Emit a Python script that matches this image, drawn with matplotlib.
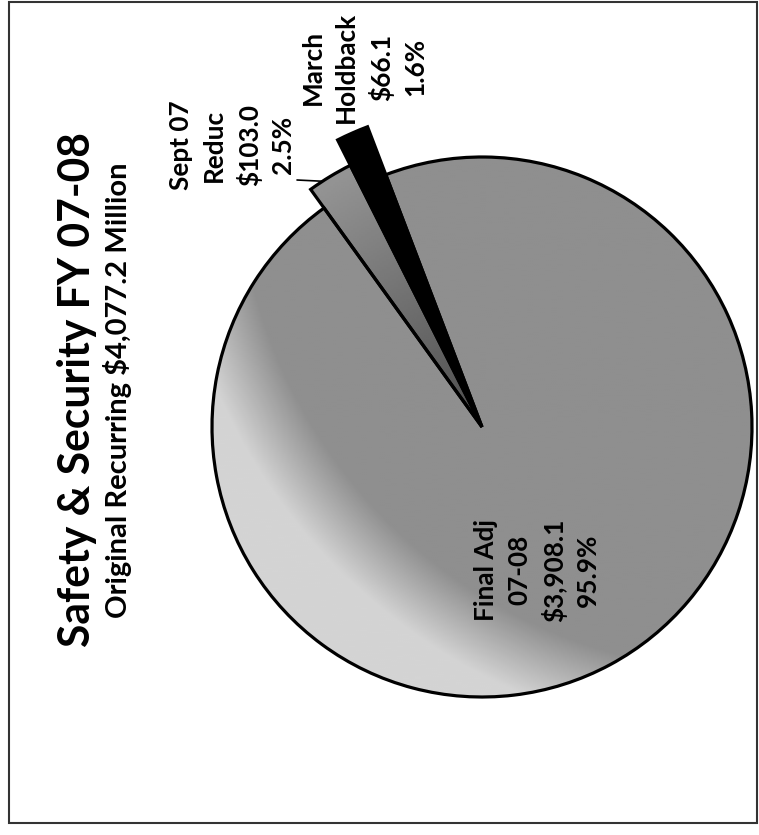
import matplotlib
matplotlib.use('Agg')
import matplotlib.pyplot as plt
import numpy as np
from matplotlib.patches import Rectangle

W, H = 759, 835
FONT = ['Lato', 'DejaVu Sans']

# chart data
names = ['Final Adj\n07-08', 'March\nHoldback', 'Sept 07\nReduc']
values = [3908.1, 66.1, 103.0]
title = 'Safety & Security FY 07-08'
subtitle_fmt = 'Original Recurring \\${:,.1f} Million'

total = sum(values)
labels = ['{}\n\\${:,.1f}\n{:.1f}%'.format(n, v, 100 * v / total)
          for n, v in zip(names, values)]

fig = plt.figure(figsize=(W / 100, H / 100), dpi=100)
ax = fig.add_axes([0, 0, 1, 1])
renderer = fig.canvas.get_renderer()


def fit_size(text, target):
    # font size that makes one line of bold text `target` px long
    t = fig.text(0, 0, text, fontsize=20, fontweight='bold', family=FONT)
    w = t.get_window_extent(renderer).width
    t.remove()
    return 20 * target / w


# pie, rotated like the scanned page
cx, cy, R = 482, 408, 270
wedges, _ = ax.pie(values, center=(cx, cy), radius=R, startangle=125.8,
                   counterclock=True, colors=['none', 'black', 'none'],
                   wedgeprops=dict(edgecolor='black', linewidth=2.3, zorder=2))
wedges[1].set_radius(R * 1.19)
wedges[2].set_radius(R * 1.085)

# shading of the big slice and the Sept wedge
xs = np.linspace(0, W, 380)
ys = np.linspace(0, H, 420)
X, Y = np.meshgrid(xs, ys)
rr = np.hypot(X - 752, Y - 678)
big_shade = 0.56 + 0.27 * np.clip((rr - 515) / 70, 0, 1)
im = ax.imshow(big_shade, cmap='gray', vmin=0, vmax=1, extent=(0, W, 0, H),
               origin='lower', zorder=1, interpolation='bilinear')
im.set_clip_path(wedges[0])

rc = np.hypot(X - cx, Y - cy)
sept_shade = 0.3 + 0.28 * np.clip(rc / 290, 0, 1)
im2 = ax.imshow(sept_shade, cmap='gray', vmin=0, vmax=1, extent=(0, W, 0, H),
                origin='lower', zorder=1, interpolation='bilinear')
im2.set_clip_path(wedges[2])

# leader line for the Sept label
sw = wedges[2]
th = np.radians(sw.theta1 + 0.69 * (sw.theta2 - sw.theta1))
pt = (cx + sw.r * np.cos(th), cy + sw.r * np.sin(th))
ax.annotate('', xy=pt, xytext=(297, 655),
            arrowprops=dict(arrowstyle='-', color='black', lw=1.2,
                            shrinkA=0, shrinkB=0))

# titles
ax.text(90, 445, title, rotation=90, rotation_mode='anchor', ha='center',
        va='baseline', fontsize=fit_size(title, 516), fontweight='bold',
        family=FONT, color='black')
sub = subtitle_fmt.format(total)
ax.text(127, 445, sub, rotation=90, rotation_mode='anchor', ha='center',
        va='baseline', fontsize=fit_size(sub.replace('\\', ''), 456),
        fontweight='bold', family=FONT, color='black')

# slice labels
lab_size = fit_size('Holdback', 111)
label_pos = [(537, 265), (364, 768), (232, 690)]
for (x, y), lab in zip(label_pos, labels):
    ax.text(x, y, lab, rotation=90, ha='center', va='center',
            multialignment='center', linespacing=1.45, fontsize=lab_size,
            fontweight='bold', family=FONT, color='black')

# page border
ax.add_patch(Rectangle((9, 12), 748, 821, fill=False, edgecolor='#333333',
                       linewidth=1.5, zorder=5))

ax.set_xlim(0, W)
ax.set_ylim(0, H)
ax.set_aspect('equal')
ax.axis('off')

fig.savefig('out.png', dpi=100)
